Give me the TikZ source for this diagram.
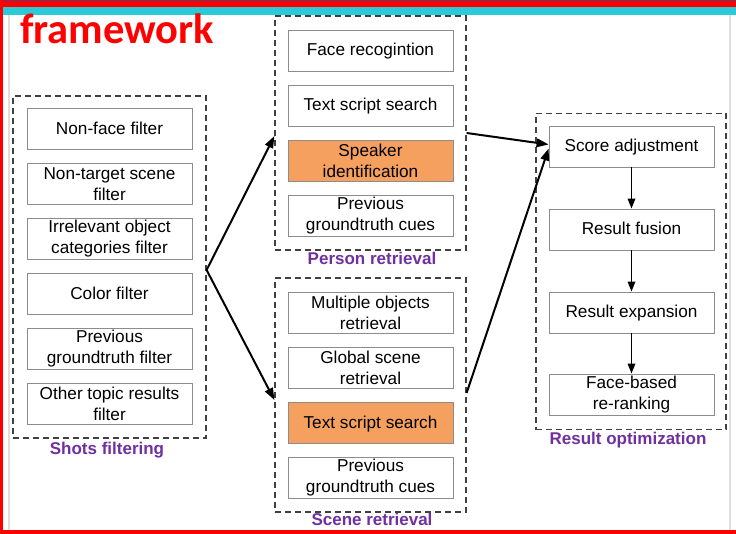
\documentclass[tikz,border=0pt]{standalone}
\usepackage{fontspec}
\setmainfont{Liberation Sans}
\newfontfamily\titlefont{Carlito}
\usetikzlibrary{arrows.meta,calc}
\definecolor{myred}{RGB}{255,0,0}
\definecolor{mycyan}{RGB}{42,203,214}
\definecolor{mypurple}{RGB}{112,48,160}
\definecolor{myorange}{RGB}{245,160,95}
\definecolor{topline}{RGB}{90,60,110}
\begin{document}
\begin{tikzpicture}[x=1pt,y=-1pt,
  stepbox/.style={draw=gray!90, line width=0.8pt, fill=white, minimum width=165pt, minimum height=41pt,
    inner sep=0pt, align=center, font=\fontsize{17.2}{21}\selectfont},
  oneline/.style={text height=14pt, text depth=3pt},
  hibox/.style={stepbox, fill=myorange},
  groupbox/.style={draw=black!75, line width=1.2pt, dash pattern=on 6pt off 4pt},
  grouplabel/.style={text=mypurple, font=\bfseries\fontsize{17}{20}\selectfont, inner sep=0pt},
  bigarrow/.style={draw=black, line width=2pt, -{Triangle[length=12pt,width=8.5pt]}},
  smallarrow/.style={draw=black, line width=1.7pt, -{Triangle[length=10pt,width=7.5pt]}}
]
\useasboundingbox (0,0) rectangle (736,534);
\fill[white] (0,0) rectangle (736,534);
% frame bands
\fill[myred] (0,0) rectangle (736,7);
\fill[topline] (0,0) rectangle (736,1);
\fill[mycyan] (3,7) rectangle (736,15);
\fill[myred] (0,0) rectangle (3,534);
\fill[myred] (0,530) rectangle (736,534);
\draw[gray!25, line width=2pt] (8.5,15) -- (8.5,530);
\draw[gray!25, line width=2pt] (730,15) -- (730,530);

% title
\node[anchor=base west, inner sep=0pt, text=myred, font=\titlefont\bfseries\fontsize{42.5}{46}\selectfont] (title) at (20,43.5) {framework};

% group boxes
\node[groupbox, minimum width=193pt, minimum height=342pt, inner sep=0pt] (shots) at (109.5,267) {};
\node[groupbox, minimum width=191pt, minimum height=234pt, inner sep=0pt] (person) at (370.5,133) {};
\node[groupbox, minimum width=191pt, minimum height=234pt, inner sep=0pt] (scene) at (370.5,395) {};
\node[groupbox, minimum width=190pt, minimum height=316pt, inner sep=0pt] (opt) at (631,271.5) {};

\node[grouplabel] (shotslabel) at (107,450) {Shots filtering};
\node[grouplabel] (personlabel) at (372,258) {Person retrieval};
\node[grouplabel] (scenelabel) at (372,519) {Scene retrieval};
\node[grouplabel] (optlabel) at (628,440) {Result optimization};

% left column
\node[stepbox, oneline] (s1) at (109.5,129) {Non-face filter};
\node[stepbox] (s2) at (109.5,184) {Non-target scene\\filter};
\node[stepbox] (s3) at (109.5,239) {Irrelevant object\\categories filter};
\node[stepbox, oneline] (s4) at (109.5,294) {Color filter};
\node[stepbox] (s5) at (109.5,349) {Previous\\groundtruth filter};
\node[stepbox] (s6) at (109.5,404) {Other topic results\\filter};

% person retrieval
\node[stepbox, oneline] (p1) at (370.5,50.5) {Face recogintion};
\node[stepbox, oneline] (p2) at (370.5,105.5) {Text script search};
\node[hibox] (p3) at (370.5,160.5) {Speaker\\identification};
\node[stepbox] (p4) at (370.5,215.5) {Previous\\groundtruth cues};

% scene retrieval
\node[stepbox] (c1) at (370.5,312.5) {Multiple objects\\retrieval};
\node[stepbox] (c2) at (370.5,367.5) {Global scene\\retrieval};
\node[hibox, oneline] (c3) at (370.5,422.5) {Text script search};
\node[stepbox] (c4) at (370.5,477.5) {Previous\\groundtruth cues};

% result optimization
\node[stepbox, oneline] (r1) at (631.5,146.5) {Score adjustment};
\node[stepbox, oneline] (r2) at (631.5,229.5) {Result fusion};
\node[stepbox, oneline] (r3) at (631.5,312.5) {Result expansion};
\node[stepbox] (r4) at (631.5,394.5) {Face-based\\re-ranking};

% connectors
\coordinate (fork) at ([yshift=-3pt]shots.east);
\draw[bigarrow] (fork) -- ([yshift=-3pt]person.west);
\draw[bigarrow] (fork) -- ([yshift=-5pt]scene.west);
\draw[bigarrow] (person.east) -- ([yshift=2pt]r1.west);
\draw[bigarrow] ([yshift=2pt]scene.east) -- ([yshift=-2pt]r1.west);
\draw[smallarrow] (r1) -- (r2);
\draw[smallarrow] (r2) -- (r3);
\draw[smallarrow] (r3) -- (r4);
\end{tikzpicture}
\end{document}
